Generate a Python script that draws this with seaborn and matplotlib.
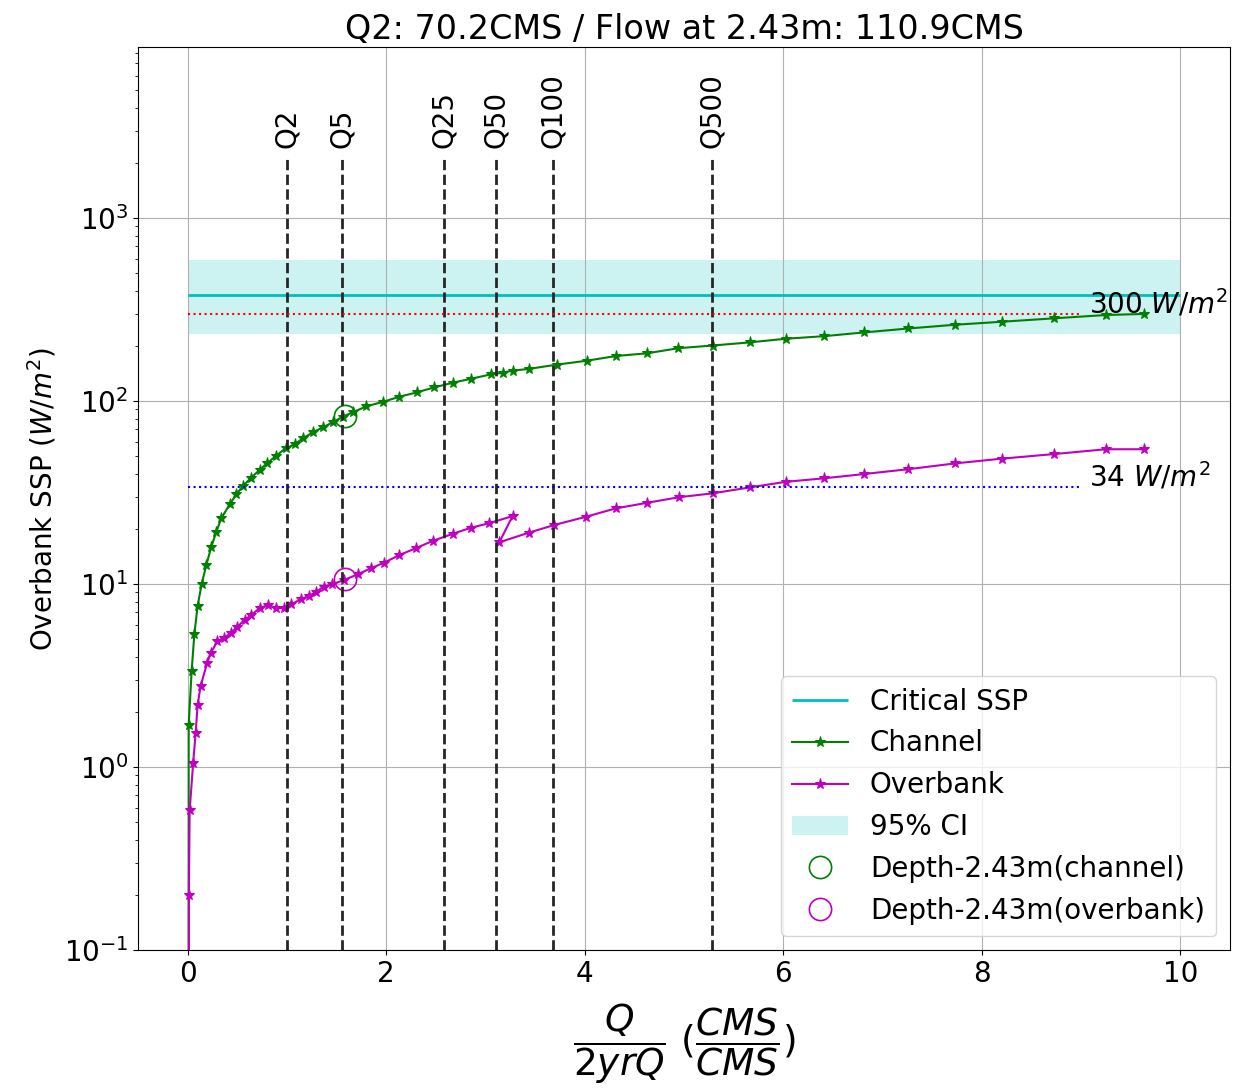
import matplotlib
matplotlib.use('Agg')
import matplotlib.pyplot as plt
import seaborn as sns

# discharge ratio Q/Q2 and specific stream power (W/m^2), channel
chan_q = [0.0, 0.01, 0.04, 0.067, 0.10, 0.141, 0.188, 0.238, 0.289, 0.339,
          0.423, 0.490, 0.557, 0.641, 0.724, 0.798, 0.892, 0.986, 1.077, 1.160,
          1.261, 1.362, 1.462, 1.563, 1.663, 1.80, 1.972, 2.133, 2.307, 2.485,
          2.669, 2.854, 3.055, 3.172, 3.273, 3.434, 3.716, 4.021, 4.313, 4.631,
          4.943, 5.29, 5.66, 6.03, 6.41, 6.815, 7.26, 7.73, 8.20, 8.73,
          9.25, 9.63]
chan_ssp = [0.0, 1.70, 3.36, 5.3, 7.6, 10.0, 12.7, 16.0, 19.3, 22.9,
            27.2, 30.9, 34.4, 38.1, 42.0, 45.6, 50.2, 55.1, 57.9, 62.5,
            67.4, 71.8, 76.5, 82.1, 86.7, 93.5, 99.1, 105.5, 111.4, 118.7,
            125.8, 132.3, 139.8, 142.8, 146.5, 149.7, 157.9, 166.0, 176.1, 182.3,
            194.3, 201.0, 209.0, 219.0, 226.0, 237.0, 249.0, 261.0, 271.0, 283.0,
            295.0, 299.0]

# overbank (note the step back near Q50)
over_q = [0.0, 0.012, 0.02, 0.055, 0.08, 0.10, 0.13, 0.196, 0.233, 0.30,
          0.366, 0.433, 0.50, 0.573, 0.641, 0.724, 0.808, 0.892, 0.969, 1.043,
          1.137, 1.227, 1.295, 1.371, 1.452, 1.573, 1.713, 1.848, 1.982, 2.133,
          2.30, 2.468, 2.669, 2.854, 3.038, 3.273, 3.139, 3.44, 3.692, 4.011,
          4.313, 4.631, 4.950, 5.29, 5.66, 6.03, 6.41, 6.815, 7.26, 7.73,
          8.20, 8.73, 9.25, 9.63]
over_ssp = [0.0, 0.20, 0.58, 1.05, 1.53, 2.18, 2.77, 3.7, 4.2, 4.87,
            5.09, 5.37, 5.84, 6.36, 6.77, 7.37, 7.68, 7.37, 7.42, 7.74,
            8.25, 8.63, 9.07, 9.67, 9.96, 10.5, 11.3, 12.2, 13.1, 14.4,
            15.7, 17.2, 18.8, 20.3, 21.5, 23.5, 16.9, 19.1, 21.0, 23.3,
            25.9, 27.8, 29.8, 31.3, 33.7, 36.2, 37.8, 39.9, 42.4, 45.6,
            48.4, 51.3, 54.5, 54.5]

# return period flows as ratio of Q2
rp_labels = ['Q2', 'Q5', 'Q25', 'Q50', 'Q100', 'Q500']
rp_q = [1.0, 1.55, 2.58, 3.11, 3.68, 5.28]

crit_ssp = 380
ci_low, ci_high = 232, 590
ref_ssp = [300, 34]
ref_colors = ['r', 'b']
depth_q = 1.58
depth_chan = 83
depth_over = 10.6

fig, ax = plt.subplots(figsize=(12.37, 10.92), dpi=100)
fig.subplots_adjust(left=0.1116, right=0.9943, top=0.957, bottom=0.130)

h_crit = ax.hlines(crit_ssp, 0, 10, colors='c', lw=2, label='Critical SSP')

sns.lineplot(x=chan_q, y=chan_ssp, sort=False, estimator=None, color='green',
             marker='*', markersize=8, mec='green', lw=1.5, label='Channel', ax=ax)
sns.lineplot(x=over_q, y=over_ssp, sort=False, estimator=None, color='m',
             marker='*', markersize=8, mec='m', lw=1.5, label='Overbank', ax=ax)
h_chan, h_over = ax.lines[0], ax.lines[1]

h_ci = ax.fill_between([0, 10], ci_low, ci_high, color='c', alpha=0.2, lw=0,
                       label='95% CI')

h_dc, = ax.plot(depth_q, depth_chan, 'o', mfc='none', mec='green', ms=16, mew=1.2,
                label='Depth-2.43m(channel)')
h_do, = ax.plot(depth_q, depth_over, 'o', mfc='none', mec='m', ms=16, mew=1.2,
                label='Depth-2.43m(overbank)')

ax.set_yscale('log')
ax.set_ylim(0.1, 8600)
ax.set_xlim(-0.5, 10.5)

# return period markers
ax.vlines(rp_q, 0.1, 2200, colors='0.15', linestyles='--', lw=2)
for lab, q in zip(rp_labels, rp_q):
    ax.text(q, 2400, lab, rotation=90, ha='center', va='bottom', fontsize=20)

# reference SSP thresholds
for val, col in zip(ref_ssp, ref_colors):
    ax.hlines(val, 0, 9, colors=col, linestyles=':', lw=1.5)
    ax.text(9.08, val, f'{val} $W/m^2$', fontsize=20)

ax.grid(True, which='major', color='#b0b0b0', lw=0.8)
ax.tick_params(labelsize=20)
ax.set_ylabel('Overbank SSP ($W/m^2$)', fontsize=20)
ax.set_xlabel(r'$\dfrac{Q}{2yrQ}$ $(\dfrac{CMS}{CMS})$', fontsize=27, labelpad=10)
ax.set_title('Q2: 70.2CMS / Flow at 2.43m: 110.9CMS', fontsize=24)

ax.legend(handles=[h_crit, h_chan, h_over, h_ci, h_dc, h_do],
          loc='lower right', fontsize=20)

fig.savefig('out.png', dpi=100)
